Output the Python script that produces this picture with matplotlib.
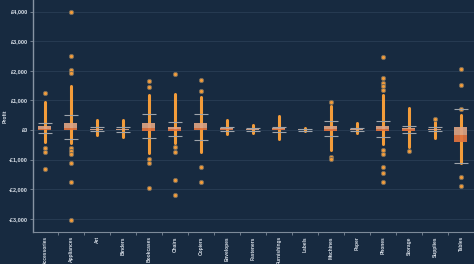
import matplotlib
matplotlib.use("Agg")
import matplotlib.pyplot as plt
from matplotlib.ticker import FuncFormatter, MultipleLocator

# ------------------------------------------------------------------
# Data (profit in GBP)
# ------------------------------------------------------------------
categories = ["Accessories", "Appliances", "Art", "Binders", "Bookcases", "Chairs",
              "Copiers", "Envelopes", "Fasteners", "Furnishings", "Labels",
              "Machines", "Paper", "Phones", "Storage", "Supplies", "Tables"]

q1 = [5, -5, 2, -10, -20, -24, 0, 0, 0, 0, -10, -24, 0, -24, -20, -10, -415]
median = [40, 60, 15, 10, 60, 40, 80, 20, 10, 20, 10, 40, 15, 40, 20, 10, -170]
q3 = [130, 226, 40, 40, 226, 111, 226, 60, 30, 60, 40, 135, 40, 135, 80, 40, 90]
whisker_lo = [-90, -314, -40, -80, -260, -193, -338, -40, -30, -57, -30, -203, -30, -225, -90, -45, -1105]
whisker_hi = [226, 507, 100, 110, 530, 280, 530, 100, 60, 111, 50, 314, 80, 314, 146, 111, 710]

# extent of the densely packed points
dense_lo = [-395, -450, -170, -225, -770, -450, -733, -135, -90, -314, -40, -676, -90, -473, -563, -281, -1105]
dense_hi = [960, 1486, 338, 338, 1182, 1205, 1104, 338, 170, 473, 80, 811, 226, 1182, 732, 282, 507]

# isolated points
outliers = [
    [1240, -620, -730, -1330],
    [3980, 2500, 2027, 1936, -620, -710, -810, -1100, -1750, -3040],
    [],
    [],
    [1655, 1463, -980, -1130, -1970],
    [1880, -563, -733, -1690, -2196],
    [1690, 1318, -1260, -1746],
    [],
    [],
    [],
    [],
    [956, -900, -990],
    [],
    [2456, 1768, 1577, 1486, 1351, -676, -811, -1239, -1441, -1768],
    [-698],
    [372],
    [2060, 1532, 710, -1577, -1880],
]

BG = "#172a40"
ORANGE = "#f39c3a"
TEXT = "#d6dde6"
FONT = ["Liberation Sans", "DejaVu Sans"]

fig = plt.figure(figsize=(4.74, 2.64), dpi=100, facecolor=BG)
ax = fig.add_axes([33 / 474, 32 / 264, 441 / 474, 232 / 264], facecolor=BG)

for i, cat in enumerate(categories):
    # dense strip of points
    ax.plot([i, i], [dense_lo[i], dense_hi[i]], color=ORANGE, lw=2.2,
            solid_capstyle="round", zorder=2)
    # isolated points
    ax.plot([i] * len(outliers[i]), outliers[i], "o", ms=3.0, color=ORANGE,
            mec="#7a6c58", mew=0.7, zorder=3, linestyle="none")
    # box: upper and lower halves
    ax.bar(i, q3[i] - median[i], bottom=median[i], width=0.5,
           color="#dda383", alpha=0.92, zorder=4, linewidth=0)
    ax.bar(i, median[i] - q1[i], bottom=q1[i], width=0.5,
           color="#e2733e", alpha=0.92, zorder=4, linewidth=0)
    # whisker caps
    ax.hlines([whisker_lo[i], whisker_hi[i]], i - 0.27, i + 0.27,
              color="#9ea4ab", lw=0.8, zorder=5)

ax.set_xlim(-0.46, 16.5)
ax.set_ylim(-3446, 4392)

ax.yaxis.set_major_locator(MultipleLocator(1000))


def gbp(v, pos):
    s = f"£{abs(v):,.0f}"
    return "-" + s if v < 0 else s


ax.yaxis.set_major_formatter(FuncFormatter(gbp))
ax.grid(axis="y", color="#2a3e55", lw=0.6)
ax.set_axisbelow(True)

ax.set_xticks(range(len(categories)))
ax.set_xticklabels(categories, rotation=90, fontsize=3.5, color=TEXT,
                   fontweight="bold", va="top", family=FONT)
ax.set_xticks([i + 0.5 for i in range(len(categories) - 1)], minor=True)
ax.tick_params(axis="x", which="major", length=0, pad=3)
ax.tick_params(axis="x", which="minor", length=2, color="#7d8a99", width=0.6)
ax.tick_params(axis="y", labelsize=4.0, labelcolor=TEXT, length=2.5,
               color="#7d8a99", width=0.6, pad=1)
for lab in ax.get_yticklabels():
    lab.set_fontweight("bold")
    lab.set_family(FONT)

ax.set_ylabel("Profit", fontsize=3.6, color=TEXT, fontweight="bold",
              family=FONT)
ax.yaxis.set_label_coords(-0.058, 0.5)

for side in ("top", "right"):
    ax.spines[side].set_visible(False)
ax.spines["left"].set_color("#8794a3")
ax.spines["left"].set_linewidth(1.0)
ax.spines["bottom"].set_color("#7d8a99")
ax.spines["bottom"].set_linewidth(0.8)

fig.savefig("out.png", dpi=100, facecolor=BG)
